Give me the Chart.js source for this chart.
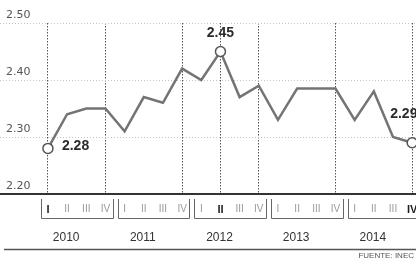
<!DOCTYPE html>
<html>
<head>
<meta charset="utf-8">
<script src="https://cdn.jsdelivr.net/npm/chart.js@4.4.1/dist/chart.umd.min.js"></script>
<style>
  html, body { margin: 0; padding: 0; background: #fff; }
  canvas { display: block; }
</style>
</head>
<body>
<canvas id="chart" width="416" height="258"></canvas>
<script>
const YEARS = ['2010', '2011', '2012', '2013', '2014'];
const QUARTERS = ['I', 'II', 'III', 'IV'];
const VALUES = [2.28, 2.34, 2.35, 2.35, 2.31, 2.37, 2.36, 2.42, 2.40, 2.45,
                2.37, 2.39, 2.33, 2.385, 2.385, 2.385, 2.33, 2.38, 2.30, 2.29];
const HIGHLIGHT = [0, 9, 19];
const Y_TICKS = [2.2, 2.3, 2.4, 2.5];
const SOURCE = 'FUENTE: INEC';

const INK = '#2b2b2b';
const LINE = '#747474';

// where each highlighted value label sits relative to its point
const labelPlacement = {
  0: { dx: 14, dy: -2, align: 'left' },
  9: { dx: 0, dy: -18, align: 'center' },
  19: { dx: -22, dy: -29, align: 'left' }
};

const quarterIdx = VALUES.map((_, i) => i);
const yearEnds = YEARS.map((_, k) => k * 4 + 3);
const vLines = [...new Set([...HIGHLIGHT, ...yearEnds])];

// keep the axes from shrinking the plot for their own label overhang
function pinAxis(size) {
  return (axis) => {
    axis.paddingLeft = 0;
    axis.paddingRight = 0;
    axis.paddingTop = 0;
    axis.paddingBottom = 0;
    if (axis.isHorizontal()) axis.height = size;
    else axis.width = size;
  };
}

const decorPlugin = {
  id: 'decor',
  afterDatasetsDraw(chart) {
    const { ctx } = chart;
    const points = chart.getDatasetMeta(0).data;
    ctx.save();
    ctx.font = 'bold 14px "Liberation Sans", Arial, sans-serif';
    ctx.fillStyle = INK;
    ctx.textBaseline = 'middle';
    HIGHLIGHT.forEach((i) => {
      const p = points[i];
      const place = labelPlacement[i];
      ctx.textAlign = place.align;
      ctx.fillText(VALUES[i].toFixed(2), p.x + place.dx, p.y + place.dy);
    });
    ctx.restore();
  },
  afterDraw(chart) {
    const { ctx, width } = chart;
    const xs = chart.scales.x;
    const ys = chart.scales.xYear;
    ctx.save();
    // year brackets under the quarter labels
    ctx.strokeStyle = '#666';
    ctx.lineWidth = 1;
    YEARS.forEach((_, k) => {
      const x0 = Math.round(xs.getPixelForValue(k * 4 - 0.5) + 2.5) + 0.5;
      const x1 = Math.round(xs.getPixelForValue(k * 4 + 3.5) - 2.5) + 0.5;
      const top = xs.top + 5;
      const bottom = xs.top + 24.5;
      ctx.beginPath();
      ctx.moveTo(x0, top);
      ctx.lineTo(x0, bottom);
      ctx.lineTo(x1, bottom);
      ctx.lineTo(x1, top);
      ctx.stroke();
    });
    // closing rule and source
    ctx.strokeStyle = '#555';
    ctx.lineWidth = 1.5;
    ctx.beginPath();
    ctx.moveTo(4, ys.bottom + 5.5);
    ctx.lineTo(width, ys.bottom + 5.5);
    ctx.stroke();
    ctx.font = '8px "Liberation Sans", Arial, sans-serif';
    ctx.fillStyle = '#555';
    ctx.textAlign = 'right';
    ctx.textBaseline = 'top';
    ctx.fillText(SOURCE, width - 2, ys.bottom + 8);
    ctx.restore();
  }
};

new Chart(document.getElementById('chart'), {
  type: 'line',
  data: {
    datasets: [{
      data: VALUES.map((v, i) => ({ x: i, y: v })),
      borderColor: LINE,
      borderWidth: 2.5,
      tension: 0,
      pointRadius: (c) => (HIGHLIGHT.includes(c.dataIndex) ? 5 : 0),
      pointBackgroundColor: '#fff',
      pointBorderColor: '#555',
      pointBorderWidth: 1.5,
      clip: false
    }]
  },
  options: {
    responsive: false,
    animation: false,
    layout: { autoPadding: false, padding: { top: 23, left: 0, right: 0, bottom: 14 } },
    plugins: { legend: { display: false }, tooltip: { enabled: false } },
    scales: {
      x: {
        type: 'linear',
        position: 'bottom',
        min: -2.5,
        max: 19.2,
        afterBuildTicks: (axis) => { axis.ticks = quarterIdx.map((v) => ({ value: v })); },
        afterFit: pinAxis(22),
        grid: {
          drawTicks: false,
          color: (c) => (c.tick && vLines.includes(c.tick.value) ? '#555' : 'rgba(0,0,0,0)'),
          lineWidth: 1
        },
        border: { display: true, color: '#333', width: 2, dash: [1.5, 1.5] },
        ticks: {
          padding: 9,
          maxRotation: 0,
          autoSkip: false,
          callback: (v) => QUARTERS[v % 4],
          color: (c) => (HIGHLIGHT.includes(c.tick.value) ? '#1e1e1e' : '#9a9a9a'),
          font: (c) => (HIGHLIGHT.includes(c.tick && c.tick.value)
            ? { family: '"Liberation Sans", Arial, sans-serif', size: 11, weight: 'bold' }
            : { family: '"Liberation Sans", Arial, sans-serif', size: 10, weight: 'normal' })
        }
      },
      xYear: {
        type: 'linear',
        position: 'bottom',
        min: -2.5,
        max: 19.2,
        afterBuildTicks: (axis) => { axis.ticks = YEARS.map((_, k) => ({ value: k * 4 + 0.95 })); },
        afterFit: pinAxis(28),
        grid: { display: false, drawTicks: false },
        border: { display: false },
        ticks: {
          padding: 14,
          maxRotation: 0,
          autoSkip: false,
          callback: (v, i) => YEARS[i],
          color: '#333',
          font: { family: '"Liberation Sans", Arial, sans-serif', size: 12 }
        }
      },
      y: {
        min: 2.2,
        max: 2.5,
        afterBuildTicks: (axis) => { axis.ticks = Y_TICKS.map((v) => ({ value: v })); },
        afterFit: pinAxis(0),
        grid: {
          drawTicks: false,
          color: (c) => (c.tick && c.tick.value > 2.25 ? '#c4c4c4' : 'rgba(0,0,0,0)'),
          lineWidth: 1
        },
        border: { display: false, dash: [1, 2] },
        ticks: {
          mirror: true,
          padding: 6,
          labelOffset: -8,
          callback: (v) => v.toFixed(2),
          color: '#555',
          font: { family: '"DejaVu Sans", sans-serif', size: 11 }
        }
      }
    }
  },
  plugins: [decorPlugin]
});
</script>
</body>
</html>
